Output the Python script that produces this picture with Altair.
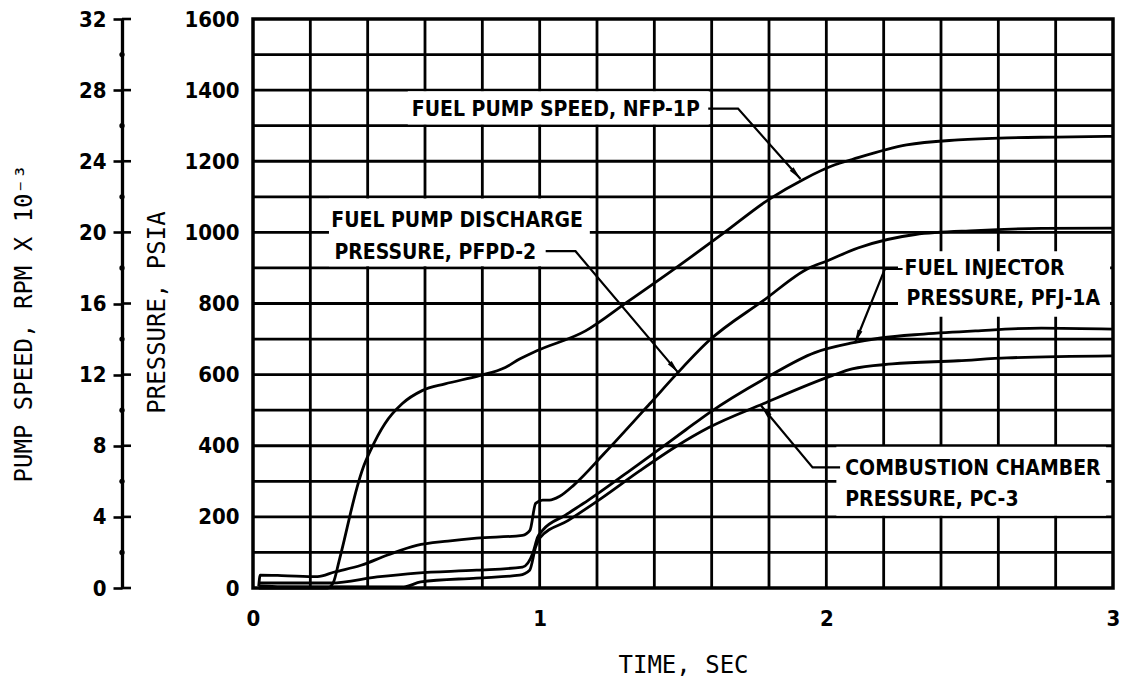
import math
import altair as alt
import pandas as pd

W, H = 860, 569
T_MAX, P_MAX, S_MAX = 3.0, 1600, 32

# ---------------- data ----------------
nfp_t = [0.02, 0.26, 0.28, 0.30, 0.318, 0.34, 0.363, 0.385, 0.41, 0.46, 0.52, 0.59, 0.67, 0.79,
         0.88, 0.93, 0.99, 1.16, 1.30, 1.48, 1.64, 1.80, 1.92, 2.03, 2.09, 2.28, 2.46, 2.63, 2.80, 3.0]
nfp_krpm = [0, 0, 0.3, 1.5, 2.68, 4.2, 5.66, 6.8, 7.74, 9.24, 10.36, 11.1, 11.48, 11.94,
            12.4, 12.88, 13.34, 14.46, 16.02, 18.06, 19.94, 21.86, 22.98, 23.8, 24.1, 24.92, 25.2, 25.32, 25.36, 25.4]

pfpd_t = [0.02, 0.025, 0.10, 0.225, 0.284, 0.377, 0.467, 0.571, 0.68, 0.78, 0.94, 0.966, 0.986, 1.01,
          1.034, 1.07, 1.12, 1.225, 1.384, 1.478, 1.59, 1.78, 1.94, 2.0, 2.11, 2.31, 2.52, 2.75, 3.0]
pfpd_p = [5, 36, 35, 32, 45, 64, 92, 120, 132, 140, 148, 162, 238, 247,
          247, 258, 290, 378, 518, 602, 695, 808, 900, 919, 956, 994, 1005, 1011, 1012]

inj_t = [0.02, 0.10, 0.273, 0.433, 0.571, 0.78, 0.94, 0.976, 0.993, 1.01, 1.09, 1.17, 1.34, 1.51,
         1.59, 1.79, 1.96, 2.09, 2.19, 2.34, 2.52, 2.75, 3.0]
inj_p = [14, 14, 14, 31, 42, 50, 59, 98, 143, 162, 205, 247, 345, 445,
         492, 591, 662, 689, 703, 714, 723, 731, 728]

pc_t = [0.02, 0.10, 0.526, 0.585, 0.78, 0.93, 0.965, 0.986, 1.0, 1.10, 1.22, 1.35, 1.48, 1.59,
        1.78, 2.02, 2.09, 2.23, 2.46, 2.63, 3.0]
pc_p = [6, 4, 3, 17, 28, 36, 50, 115, 140, 190, 255, 330, 400, 451,
        518, 597, 616, 630, 639, 647, 653]

x_ticks = [0, 1, 2, 3]
p_ticks = [0, 200, 400, 600, 800, 1000, 1200, 1400, 1600]
s_ticks = [0, 4, 8, 12, 16, 20, 24, 28, 32]
s_minor = [2, 6, 10, 14, 18, 22, 26, 30]
grid_t = [0.2, 0.4, 0.6, 0.8, 1.0, 1.2, 1.4, 1.6, 1.8, 2.0, 2.2, 2.4, 2.6, 2.8]
grid_p = [100, 200, 300, 400, 500, 600, 700, 800, 900, 1000, 1100, 1200, 1300, 1400, 1500]

ann_text = ["FUEL PUMP SPEED, NFP-1P", "FUEL PUMP DISCHARGE", "PRESSURE, PFPD-2",
            "FUEL INJECTOR", "PRESSURE, PFJ-1A", "COMBUSTION CHAMBER", "PRESSURE, PC-3"]
ann_t = [0.554, 0.273, 0.284, 2.273, 2.28, 2.066, 2.066]
ann_p = [1345, 1031, 941, 897, 813, 336, 247]

box_t0 = [0.54, 0.265, 2.25, 2.035]
box_t1 = [1.59, 1.175, 2.99, 2.976]
box_p0 = [1303, 905, 763, 203]
box_p1 = [1397, 1095, 947, 397]

lead_id = [1, 1, 1, 2, 2, 2, 3, 3, 3, 4, 4, 4]
lead_t = [1.588, 1.692, 1.91, 1.021, 1.125, 1.484, 2.266, 2.204, 2.10, 2.048, 1.952, 1.772]
lead_p = [1348, 1348, 1150, 947, 947, 605, 897, 897, 689, 339, 339, 513]

# ---------------- tables ----------------
def series(name, ts, ps):
    return pd.DataFrame({"t": ts, "p": ps, "series": name, "i": range(len(ts))})

curves = pd.concat([series("PFPD-2", pfpd_t, pfpd_p),
                    series("PFJ-1A", inj_t, inj_p),
                    series("PC-3", pc_t, pc_p)], ignore_index=True)
nfp = pd.DataFrame({"t": nfp_t, "s": nfp_krpm, "i": range(len(nfp_t))})

vgrid_df = pd.DataFrame({"t": grid_t, "p0": 0, "p1": P_MAX})
hgrid_df = pd.DataFrame({"p": grid_p, "t0": 0, "t1": T_MAX})
box_df = pd.DataFrame({"t0": box_t0, "t1": box_t1, "p0": box_p0, "p1": box_p1})
ann_df = pd.DataFrame({"t": ann_t, "p": ann_p, "txt": ann_text})
lead_df = pd.DataFrame({"id": lead_id, "t": lead_t, "p": lead_p, "i": range(len(lead_t))})

tips = []
for k in sorted(set(lead_id)):
    pts = lead_df[lead_df.id == k].sort_values("i")
    a, b = pts.iloc[-2], pts.iloc[-1]
    dx = (b.t - a.t) * W / T_MAX
    dy = -(b.p - a.p) * H / P_MAX
    ang = math.degrees(math.atan2(dx, -dy)) % 360
    tips.append({"t": b.t, "p": b.p, "ang": ang})
tip_df = pd.DataFrame(tips)

s_tick_df = pd.DataFrame({"s": s_ticks})
s_minor_df = pd.DataFrame({"s": s_minor})

# ---------------- styles ----------------
LBL_FONT = "DejaVu Sans Condensed, Liberation Sans Narrow, DejaVu Sans"
TTL_FONT = "DejaVu Sans Mono"
LW = 2.8

xs = alt.Scale(domain=[0, T_MAX], nice=False, zero=False)
ps = alt.Scale(domain=[0, P_MAX], nice=False, zero=False)
ss = alt.Scale(domain=[0, S_MAX], nice=False, zero=False)

x_axis = alt.Axis(values=x_ticks, format="d", title="TIME, SEC", grid=False, ticks=False, domain=False,
                  labelFlush=False, labelFont=LBL_FONT, labelFontSize=22, labelFontWeight="bold",
                  labelPadding=20, labelColor="black", titleFont=TTL_FONT, titleFontSize=24,
                  titleFontWeight="normal", titleColor="black", titleY=77, titleBaseline="middle")
p_axis = alt.Axis(values=p_ticks, format="d", title="PRESSURE, PSIA", orient="left", grid=False,
                  ticks=False, domain=False, labelFont=LBL_FONT, labelFontSize=22,
                  labelFontWeight="bold", labelPadding=14, labelColor="black", titleFont=TTL_FONT,
                  titleFontSize=24, titleFontWeight="normal", titleColor="black", titleX=-96,
                  titleY=293, titleAlign="center", titleBaseline="middle", titleAngle=270)
s_axis = alt.Axis(values=s_ticks, format="d", title="PUMP SPEED, RPM X 10⁻³", orient="left", offset=131,
                  grid=False, ticks=True, tickSize=9, tickWidth=2.6, tickColor="black",
                  domain=True, domainWidth=3.3, domainColor="black",
                  labelFont=LBL_FONT, labelFontSize=22, labelFontWeight="bold", labelPadding=7,
                  labelColor="black", titleFont=TTL_FONT, titleFontSize=24, titleFontWeight="normal",
                  titleColor="black", titleX=-98, titleY=304, titleAlign="center",
                  titleBaseline="middle", titleAngle=270)

X = lambda f: alt.X(f, scale=xs, axis=x_axis)
YP = lambda f: alt.Y(f, scale=ps, axis=p_axis)
YS = lambda f: alt.Y(f, scale=ss, axis=s_axis)

vgrid = alt.Chart(vgrid_df).mark_rule(color="black", strokeWidth=LW).encode(
    x=X("t:Q"), y=YP("p0:Q"), y2="p1:Q")
hgrid = alt.Chart(hgrid_df).mark_rule(color="black", strokeWidth=LW).encode(
    x=X("t0:Q"), x2="t1:Q", y=YP("p:Q"))
boxes = alt.Chart(box_df).mark_rect(fill="white").encode(
    x=X("t0:Q"), x2="t1:Q", y=YP("p0:Q"), y2="p1:Q")
lines = alt.Chart(curves).mark_line(color="black", strokeWidth=LW, interpolate="monotone").encode(
    x=X("t:Q"), y=YP("p:Q"), detail="series:N", order="i:Q")
labels = alt.Chart(ann_df).mark_text(align="left", baseline="middle", font=LBL_FONT,
                                     fontSize=21, fontWeight="bold", color="black").encode(
    x=X("t:Q"), y=YP("p:Q"), text="txt:N")
leaders = alt.Chart(lead_df).mark_line(color="black", strokeWidth=2.2).encode(
    x=X("t:Q"), y=YP("p:Q"), detail="id:N", order="i:Q")
arrows = alt.Chart(tip_df).mark_point(shape="M0,0L-0.38,2L0.38,2Z", filled=True, color="black",
                                      opacity=1, size=180, strokeWidth=0).encode(
    x=X("t:Q"), y=YP("p:Q"), angle=alt.Angle("ang:Q", scale=None))

pressure = alt.layer(vgrid, hgrid, boxes, lines, labels, leaders, arrows)

speed_line = alt.Chart(nfp).mark_line(color="black", strokeWidth=LW, interpolate="monotone").encode(
    x=X("t:Q"), y=YS("s:Q"), order="i:Q")
speed_ticks = alt.Chart(s_tick_df).mark_rule(color="black", strokeWidth=2.6).encode(
    x=alt.value(-131), x2=alt.value(-122), y=YS("s:Q"))
speed_dots = alt.Chart(s_minor_df).mark_point(filled=True, color="black", opacity=1, size=28).encode(
    x=alt.value(-131), y=YS("s:Q"))

speed = alt.layer(speed_line, speed_ticks, speed_dots)

chart = alt.layer(pressure, speed).resolve_scale(y="independent").properties(
    width=W, height=H,
    autosize=alt.AutoSizeParams(type="none"),
    padding={"left": 245, "top": 11, "right": 7, "bottom": 93},
    background="white",
).configure_view(stroke="black", strokeWidth=3.5)

chart.save("out.html", embed_options={"renderer": "svg", "actions": False})
